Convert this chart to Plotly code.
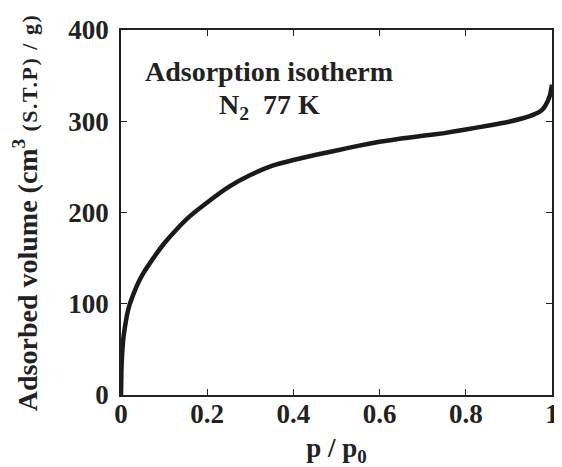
import plotly.graph_objects as go

p_rel = [0, 0.001, 0.003, 0.006, 0.01, 0.015, 0.02, 0.03, 0.04, 0.05, 0.075, 0.1, 0.13, 0.16,
         0.2, 0.25, 0.3, 0.35, 0.4, 0.45, 0.5, 0.55, 0.6, 0.65, 0.7, 0.75, 0.8, 0.85,
         0.9, 0.93, 0.95, 0.97, 0.98, 0.99, 0.995, 1.0]
volume = [0, 28, 48, 64, 77, 90, 99, 112, 123, 132, 150, 166, 182, 196,
          211, 228, 241, 251, 257.5, 263, 268, 273, 277.5, 281, 284, 287, 291, 295,
          299.5, 303, 306, 310, 314, 322, 328, 340]

x_ticks = [0, 0.2, 0.4, 0.6, 0.8, 1]
x_tick_labels = ["0", "0.2", "0.4", "0.6", "0.8", "1"]
y_ticks = [0, 100, 200, 300, 400]

FONT = "Liberation Serif"
INK = "#222"

fig = go.Figure()
fig.add_trace(go.Scatter(x=p_rel, y=volume, mode="lines",
                         line=dict(color="#1a1a1a", width=4.5, shape="spline", smoothing=0.4),
                         showlegend=False, hoverinfo="skip"))

axis_common = dict(showgrid=False, zeroline=False, showline=True, linecolor=INK,
                   linewidth=1.5, mirror="ticks", ticks="inside", ticklen=6,
                   tickwidth=1.2, tickcolor=INK, automargin=False,
                   tickfont=dict(family=FONT, size=27, color=INK, weight="bold"))

fig.update_xaxes(range=[0, 1], tickvals=x_ticks, ticktext=x_tick_labels,
                 ticklabelstandoff=-6,
                 title=dict(text="p / p<sub>0</sub>",
                            font=dict(family=FONT, size=27, color=INK, weight="bold"), standoff=10),
                 **axis_common)
fig.update_yaxes(range=[0, 400], tickvals=y_ticks, ticklabelstandoff=5,
                 title=dict(text="Adsorbed volume (cm<sup>3</sup> <span style='font-size:22px;letter-spacing:1.5px'>(S.T.P) / g)</span>",
                            font=dict(family=FONT, size=28, color=INK, weight="bold"), standoff=24),
                 **axis_common)

fig.add_annotation(x=0.051, y=354, xref="x", yref="y", xanchor="left", yanchor="middle",
                   text="Adsorption isotherm", showarrow=False,
                   font=dict(family=FONT, size=28, color=INK, weight="bold"))
fig.add_annotation(x=0.222, y=316, xref="x", yref="y", xanchor="left", yanchor="middle",
                   text="N<sub>2</sub>  77 K", showarrow=False,
                   font=dict(family=FONT, size=28, color=INK, weight="bold"))

# the page body adds an 8px margin, so the figure is sized to fit the remaining window
fig.update_layout(width=554, height=459, margin=dict(l=113, r=10, t=22, b=72),
                  paper_bgcolor="white", plot_bgcolor="white",
                  font=dict(family=FONT, size=27, color=INK))

fig.write_html("out.html")
